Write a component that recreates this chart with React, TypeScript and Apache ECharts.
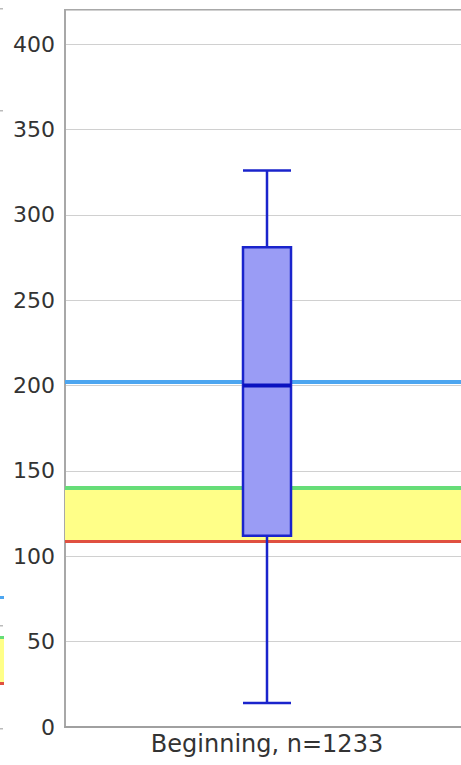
import React, { useEffect, useRef } from "react";
import * as echarts from "echarts";

const categories = ["Beginning, n=1233"];
const boxValues = [[14, 112, 200, 281, 326]]; // min, Q1, median, Q3, max
const medians = [[0, 200]];
const blueLine = 202;
const greenLine = 140;
const redLine = 109;
const yellowBand = [109, 139];
const yTicks = [0, 50, 100, 150, 200, 250, 300, 350, 400];

export default function App() {
  const ref = useRef<HTMLDivElement>(null);
  useEffect(() => {
    if (!ref.current) return;
    const chart = echarts.init(ref.current, null, { renderer: "svg" });
    chart.setOption({
      animation: false,
      backgroundColor: "#ffffff",
      grid: {
        left: 65,
        top: 10,
        bottom: 38,
        right: 0,
        show: true,
        borderColor: "#a8a8a8",
        borderWidth: 2,
      },
      xAxis: {
        type: "category",
        data: categories,
        axisLine: { show: true, lineStyle: { color: "#a0a0a0", width: 2 } },
        axisTick: { show: false },
        axisLabel: {
          color: "#333",
          fontSize: 24,
          fontFamily: "DejaVu Sans",
          margin: 5,
        },
      },
      yAxis: {
        type: "value",
        min: 0,
        max: 420,
        interval: 50,
        axisLine: { show: true, lineStyle: { color: "#a8a8a8", width: 2 } },
        axisTick: { show: false },
        splitLine: { show: true, lineStyle: { color: "#d0d0d0", width: 1 } },
        axisLabel: {
          color: "#333",
          fontSize: 22,
          fontFamily: "DejaVu Sans",
          margin: 10,
          showMaxLabel: false,
          formatter: (v: number) => (yTicks.includes(v) ? String(v) : ""),
        },
      },
      graphic: [
        { type: "rect", shape: { x: 0, y: 8, width: 3, height: 1.5 }, style: { fill: "#bbb" } },
        { type: "rect", shape: { x: 0, y: 110, width: 3, height: 1.5 }, style: { fill: "#bbb" } },
        { type: "rect", shape: { x: 0, y: 596, width: 4, height: 3 }, style: { fill: "#4da6f0" } },
        { type: "rect", shape: { x: 0, y: 625, width: 3, height: 1.5 }, style: { fill: "#bbb" } },
        { type: "rect", shape: { x: 0, y: 639, width: 4, height: 43 }, style: { fill: "#ffff88" } },
        { type: "rect", shape: { x: 0, y: 636, width: 4, height: 3 }, style: { fill: "#66dd77" } },
        { type: "rect", shape: { x: 0, y: 682, width: 4, height: 3 }, style: { fill: "#e05040" } },
        { type: "rect", shape: { x: 0, y: 728, width: 3, height: 1.5 }, style: { fill: "#bbb" } },
      ],
      series: [
        {
          type: "line",
          data: [],
          z: 1,
          silent: true,
          markArea: {
            silent: true,
            itemStyle: { color: "#ffff88", opacity: 1 },
            data: [[{ yAxis: yellowBand[0] }, { yAxis: yellowBand[1] }]],
          },
          markLine: {
            silent: true,
            symbol: "none",
            label: { show: false },
            data: [
              { yAxis: blueLine, lineStyle: { color: "#4da6f0", width: 4, type: "solid" } },
              { yAxis: greenLine, lineStyle: { color: "#66dd77", width: 4, type: "solid" } },
              { yAxis: redLine, lineStyle: { color: "#e05040", width: 3, type: "solid" } },
            ],
          },
        },
        {
          type: "boxplot",
          z: 5,
          data: boxValues,
          boxWidth: [48, 48],
          itemStyle: {
            color: "#9a9cf5",
            borderColor: "#1a24cc",
            borderWidth: 2.5,
          },
        },
        {
          type: "custom",
          z: 6,
          silent: true,
          data: medians,
          renderItem: (params: any, api: any) => {
            const p = api.coord([api.value(0), api.value(1)]);
            return {
              type: "line",
              shape: { x1: p[0] - 24, y1: p[1], x2: p[0] + 24, y2: p[1] },
              style: { stroke: "#0a12c0", lineWidth: 4 },
            };
          },
        },
      ],
    });
    return () => chart.dispose();
  }, []);
  return (
    <div style={{ width: 461, height: 765, position: "absolute", left: 0, top: 0, overflow: "hidden" }}>
      <div ref={ref} style={{ width: 469, height: 765 }} />
    </div>
  );
}
